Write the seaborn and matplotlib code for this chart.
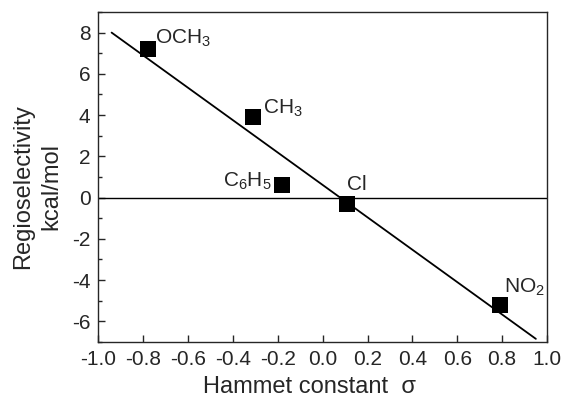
import matplotlib
matplotlib.use("Agg")
import matplotlib.pyplot as plt
import seaborn as sns
import pandas as pd
from matplotlib.ticker import MultipleLocator

sns.set_style("ticks")
plt.rcParams['font.family'] = ['Liberation Sans', 'DejaVu Sans']
plt.rcParams['mathtext.fontset'] = 'custom'
plt.rcParams['mathtext.rm'] = 'Liberation Sans'
plt.rcParams['mathtext.it'] = 'Liberation Sans:italic'
plt.rcParams['axes.unicode_minus'] = False

# data
substituents = ["OCH$_3$", "CH$_3$", "C$_6$H$_5$", "Cl", "NO$_2$"]
sigma = [-0.78, -0.31, -0.18, 0.11, 0.79]
regio = [7.2, 3.9, 0.6, -0.3, -5.2]
fit_x = [-0.94, 0.95]
fit_y = [8.0, -6.85]
xticks = [-1.0, -0.8, -0.6, -0.4, -0.2, 0.0, 0.2, 0.4, 0.6, 0.8, 1.0]
yticks = [-6, -4, -2, 0, 2, 4, 6, 8]

df = pd.DataFrame({"sigma": sigma, "regio": regio, "sub": substituents})
fit = pd.DataFrame({"x": fit_x, "y": fit_y})

fig, ax = plt.subplots(figsize=(5.64, 3.99), dpi=100)
fig.subplots_adjust(left=0.174, right=0.970, top=0.970, bottom=0.143)

sns.lineplot(data=fit, x="x", y="y", color="black", lw=1.3, ax=ax)
ax.axhline(0, color="black", lw=1.0)
sns.scatterplot(data=df, x="sigma", y="regio", marker="s", s=125, color="black",
                edgecolor="black", linewidth=0, ax=ax, zorder=3)

offsets = {
    "OCH$_3$": (0.035, 0.5, "left"),
    "CH$_3$": (0.045, 0.45, "left"),
    "C$_6$H$_5$": (-0.045, 0.2, "right"),
    "Cl": (0.0, 0.95, "left"),
    "NO$_2$": (0.02, 0.85, "left"),
}
for s, x, y in zip(substituents, sigma, regio):
    dx, dy, ha = offsets[s]
    ax.text(x + dx, y + dy, s, fontsize=15, ha=ha, va="center")

ax.set_xlim(-1.0, 1.0)
ax.set_ylim(-7, 9)
ax.set_xticks(xticks)
ax.set_xticklabels([f"{v:.1f}" for v in xticks])
ax.set_yticks(yticks)
ax.set_yticklabels([str(v) for v in yticks])
ax.yaxis.set_minor_locator(MultipleLocator(1))
ax.tick_params(which="both", direction="in", top=False, right=False, labelsize=15, width=1, pad=5.5)
ax.tick_params(which="major", length=5)
ax.tick_params(which="minor", length=3)
for sp in ax.spines.values():
    sp.set_linewidth(1.0)
    sp.set_visible(True)

ax.set_xlabel("Hammet constant  σ", fontsize=17, va="baseline")
ax.xaxis.set_label_coords(0.47, -0.156)
ax.set_ylabel("Regioselectivity\nkcal/mol", fontsize=17, linespacing=1.4, va="center")
ax.yaxis.set_label_coords(-0.136, 0.47)

fig.savefig("out.png", dpi=100)
